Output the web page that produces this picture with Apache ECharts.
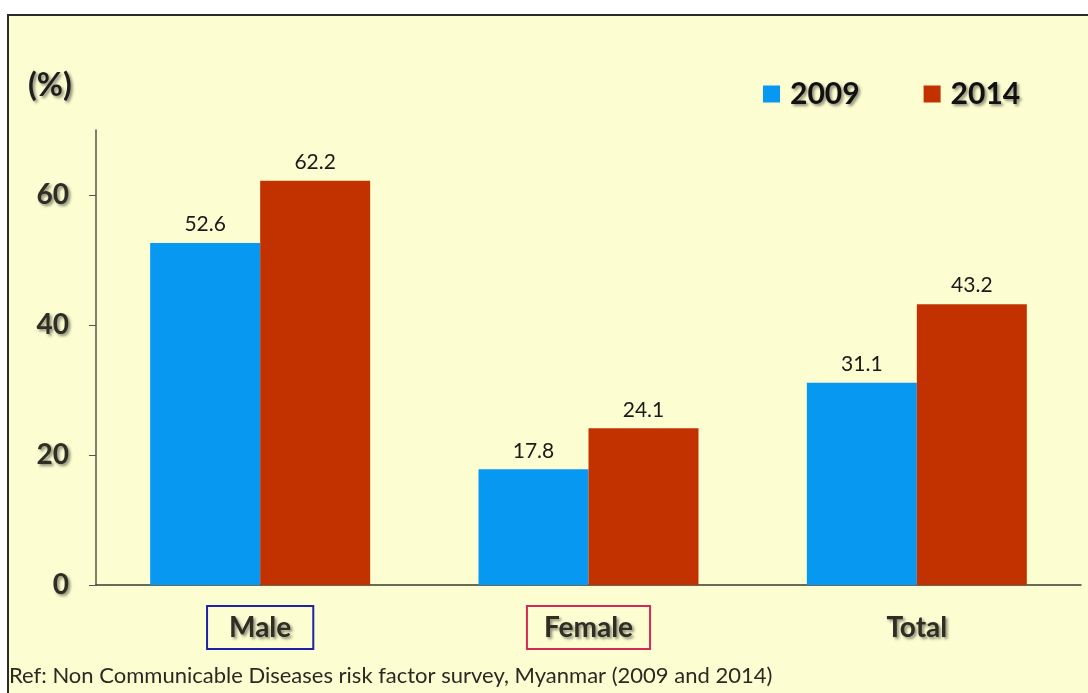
<!DOCTYPE html>
<html>
<head>
<meta charset="utf-8">
<script src="https://cdn.jsdelivr.net/npm/echarts@6/dist/echarts.min.js"></script>
<style>
  html, body { margin: 0; padding: 0; background: #ffffff; }
  #chart { width: 1088px; height: 693px; }
</style>
</head>
<body>
<div id="chart"></div>
<script>
// Prevalence (%) by sex, two survey rounds
const categories = ['Male', 'Female', 'Total'];
const values2009 = [52.6, 17.8, 31.1];
const values2014 = [62.2, 24.1, 43.2];
const yTicks = [0, 20, 40, 60];
const seriesNames = ['2009', '2014'];
const refNote = 'Ref: Non Communicable Diseases risk factor survey, Myanmar (2009 and 2014)';

const FONT = 'Lato, "Open Sans", sans-serif';
const BG = '#fdfdd2';
const shadow = {
  textShadowColor: 'rgba(0,0,0,0.45)',
  textShadowBlur: 3,
  textShadowOffsetX: 2,
  textShadowOffsetY: 2
};

const chart = echarts.init(document.getElementById('chart'), null, { renderer: 'canvas' });

const catLabel = Object.assign({
  fontFamily: FONT, fontSize: 28, fontWeight: 'bold', color: '#2e2e24'
}, shadow);

chart.setOption({
  backgroundColor: '#ffffff',
  animation: false,
  graphic: [
    {
      type: 'rect', z: -10, silent: true,
      shape: { x: 8, y: 15, width: 1200, height: 800 },
      style: { fill: BG, stroke: '#2a2a2a', lineWidth: 2 }
    },
    {
      type: 'text', left: 28, top: 70,
      style: Object.assign({
        text: '(%)', font: 'bold 32px ' + FONT, fill: '#1e1e1e'
      }, shadow)
    },
    {
      type: 'text', left: 9, top: 665,
      style: { text: refNote, font: '22px ' + FONT, fill: '#2a2a22' }
    }
  ],
  legend: {
    left: 763, top: 79, padding: 0,
    icon: 'rect', itemWidth: 17, itemHeight: 17, itemGap: 64,
    data: seriesNames,
    textStyle: Object.assign({
      fontFamily: FONT, fontSize: 30, fontWeight: 'bold', color: '#111', padding: [0, 0, 0, 5]
    }, shadow)
  },
  grid: { left: 96, right: 7, top: 130, bottom: 108 },
  xAxis: {
    type: 'category',
    data: categories,
    axisLine: { lineStyle: { color: '#3a3a30', width: 1.5 } },
    axisTick: { show: false },
    axisLabel: {
      margin: 21,
      formatter: function (v) {
        if (v === 'Male') return '{m|' + v + '}';
        if (v === 'Female') return '{f|' + v + '}';
        return '{t|' + v + '}';
      },
      rich: {
        m: Object.assign({}, catLabel, {
          borderColor: '#1f22a8', borderWidth: 2, padding: [8, 22, 7, 22]
        }),
        f: Object.assign({}, catLabel, {
          borderColor: '#d42a5a', borderWidth: 2, padding: [8, 17, 7, 17]
        }),
        t: Object.assign({}, catLabel, { padding: [8, 0, 7, 0] })
      }
    }
  },
  yAxis: {
    type: 'value',
    min: 0, max: 70,
    splitLine: { show: false },
    axisLine: { show: true, lineStyle: { color: '#55554a', width: 1.5 } },
    axisTick: {
      show: true, length: 7, inside: false,
      customValues: yTicks,
      lineStyle: { color: '#55554a' }
    },
    axisLabel: Object.assign({
      customValues: yTicks,
      margin: 27,
      fontFamily: FONT, fontSize: 28, fontWeight: 'bold', color: '#2e2e24'
    }, shadow)
  },
  series: [
    {
      name: seriesNames[0], type: 'bar', data: values2009,
      barGap: '0%', barCategoryGap: '33%',
      itemStyle: { color: '#0798f2' },
      label: {
        show: true, position: 'top', distance: 8,
        fontFamily: FONT, fontSize: 21, color: '#1a1a1a'
      }
    },
    {
      name: seriesNames[1], type: 'bar', data: values2014,
      barGap: '0%', barCategoryGap: '33%',
      itemStyle: { color: '#c23200' },
      label: {
        show: true, position: 'top', distance: 8,
        fontFamily: FONT, fontSize: 21, color: '#1a1a1a'
      }
    }
  ]
});
</script>
</body>
</html>
